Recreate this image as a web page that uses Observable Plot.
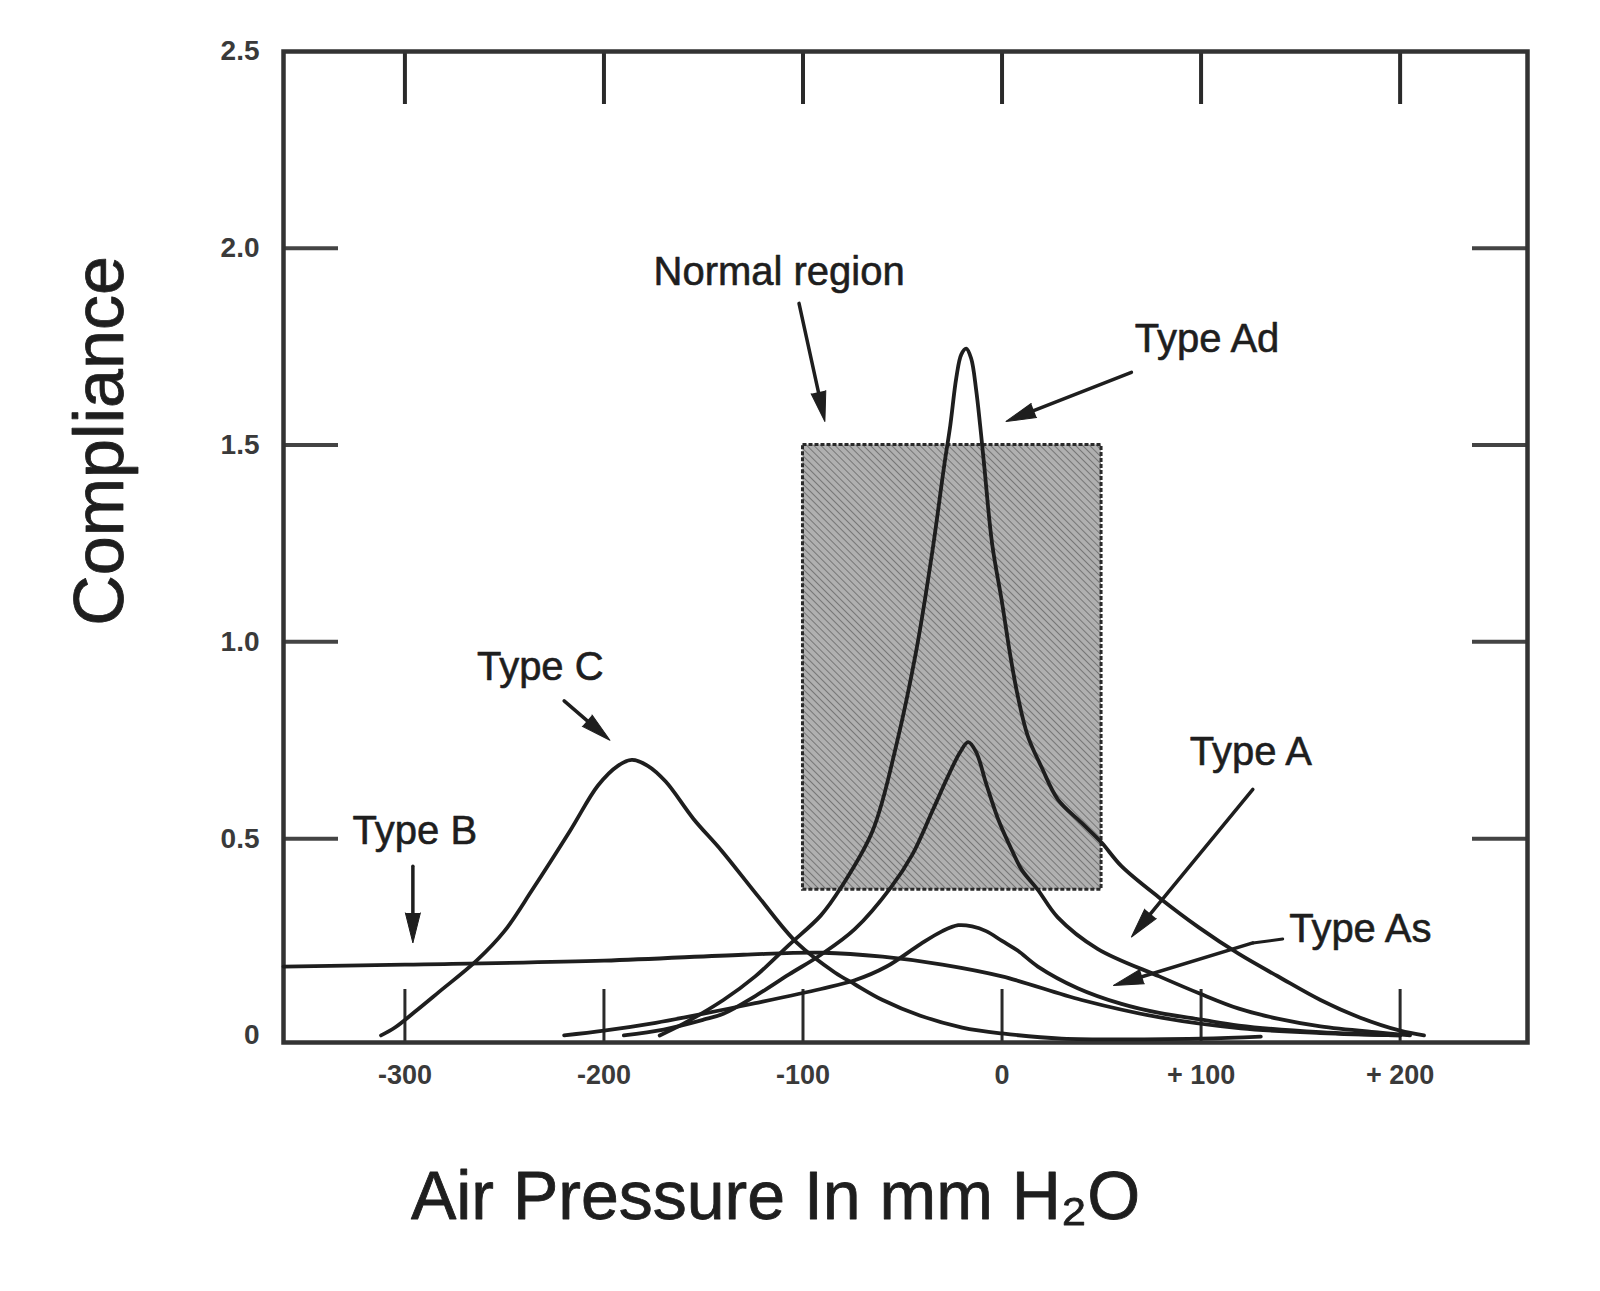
<!DOCTYPE html>
<html>
<head>
<meta charset="utf-8">
<script src="https://cdn.jsdelivr.net/npm/d3@7"></script>
<script src="https://cdn.jsdelivr.net/npm/@observablehq/plot@0.6"></script>
<style>
  body { margin: 0; background: #fff; }
  #chart svg { display: block; }
</style>
</head>
<body>
<div id="chart"></div>
<script>
// ---- axis ticks and labels ----
const xTicks = [-300, -200, -100, 0, 100, 200];
const xTickLabels = ["-300", "-200", "-100", "0", "+ 100", "+ 200"];
const yTicks = [0, 0.5, 1.0, 1.5, 2.0, 2.5];
const yTickLabels = ["0", "0.5", "1.0", "1.5", "2.0", "2.5"];
const yInnerTicks = [0.5, 1.0, 1.5, 2.0];
const xDomain = [-361, 264];
const yDomain = [-0.018, 2.5];

// ---- normal region box ----
const normalX = [-100, 50];
const normalY = [0.37, 1.5];

// ---- curves (air pressure mm H2O, compliance) ----
const typeC_x = [-312, -305, -295, -283, -264, -250, -236, -217, -203, -193, -186, -178, -169, -155, -141, -122, -103, -84, -74, -60, -41, -20, 0, 30, 100, 130];
const typeC_y = [0, 0.02, 0.06, 0.11, 0.19, 0.265, 0.37, 0.52, 0.635, 0.685, 0.70, 0.685, 0.645, 0.55, 0.47, 0.35, 0.235, 0.16, 0.13, 0.09, 0.05, 0.02, 0.005, -0.008, -0.008, -0.003];

const typeB_x = [-361, -300, -200, -130, -90, -60, -30, 0, 40, 80, 120, 160, 200];
const typeB_y = [0.175, 0.18, 0.19, 0.205, 0.21, 0.2, 0.18, 0.15, 0.09, 0.045, 0.018, 0.006, 0];

const typeAs_x = [-220, -200, -174, -160, -124, -91, -74, -58, -41, -30, -22, -15, -8, 0, 8, 18, 38, 60, 79, 100, 119, 160, 200];
const typeAs_y = [0, 0.012, 0.032, 0.045, 0.082, 0.118, 0.14, 0.175, 0.232, 0.265, 0.28, 0.277, 0.265, 0.24, 0.215, 0.175, 0.12, 0.08, 0.057, 0.04, 0.025, 0.008, 0];

const typeA_x = [-190, -170, -150, -140, -124, -107, -91, -74, -56, -45, -35, -27, -21, -17, -13, -8, -2, 5, 10, 18, 28, 48, 79, 99, 119, 139, 160, 190, 205];
const typeA_y = [0, 0.015, 0.04, 0.055, 0.1, 0.155, 0.205, 0.27, 0.375, 0.46, 0.57, 0.66, 0.72, 0.745, 0.72, 0.64, 0.55, 0.47, 0.42, 0.37, 0.3, 0.22, 0.15, 0.107, 0.068, 0.042, 0.023, 0.007, 0];

const typeAd_x = [-172, -160, -140, -124, -107, -91, -81, -65, -53, -43, -35, -29, -26, -23, -20.5, -18, -15.5, -13, -11, -9, -5, 0, 4, 8, 13, 20, 28, 40, 50, 60, 79, 99, 119, 139, 160, 180, 200, 212];
const typeAd_y = [0, 0.03, 0.09, 0.15, 0.23, 0.305, 0.375, 0.52, 0.74, 0.98, 1.23, 1.45, 1.55, 1.67, 1.73, 1.745, 1.72, 1.64, 1.55, 1.45, 1.25, 1.1, 0.97, 0.86, 0.76, 0.68, 0.6, 0.54, 0.49, 0.43, 0.35, 0.274, 0.207, 0.149, 0.09, 0.045, 0.012, 0];

// ---- annotations ----
const noteText = ["Normal region", "Type Ad", "Type C", "Type B", "Type A", "Type As"];
const noteX = [-112, 103, -232, -295, 125, 180];
const noteY = [1.94, 1.77, 0.935, 0.52, 0.72, 0.27];

const arrowX1 = [-102, 65, -220, -296, 126, 126];
const arrowY1 = [1.86, 1.685, 0.85, 0.43, 0.625, 0.235];
const arrowX2 = [-89, 2, -197, -296, 65, 56];
const arrowY2 = [1.56, 1.56, 0.75, 0.235, 0.25, 0.127];

const stubX = [141, 126];
const stubY = [0.245, 0.235];

// ---- build tables ----
const seriesDefs = [
  ["C", typeC_x, typeC_y],
  ["B", typeB_x, typeB_y],
  ["As", typeAs_x, typeAs_y],
  ["A", typeA_x, typeA_y],
  ["Ad", typeAd_x, typeAd_y]
];
const curves = seriesDefs.flatMap(([type, xs, ys]) => xs.map((x, i) => ({type, x, y: ys[i]})));
const notes = noteText.map((t, i) => ({t, x: noteX[i], y: noteY[i]}));
const arrows = arrowX1.map((x1, i) => ({x1, y1: arrowY1[i], x2: arrowX2[i], y2: arrowY2[i]}));
const stub = stubX.map((x, i) => ({x, y: stubY[i]}));
const box = [{x1: normalX[0], x2: normalX[1], y1: normalY[0], y2: normalY[1]}];

const W = 1600, H = 1291;
const mT = 51, mR = 73, mB = 249, mL = 283;
const innerW = W - mL - mR, innerH = H - mT - mB;
const tickLen = 53;
const ink = "#1e1e1e";
const font = "'Liberation Sans', Arial, Helvetica, sans-serif";

// arrowhead direction (screen angle, clockwise from up)
const kx = innerW / (xDomain[1] - xDomain[0]);
const ky = innerH / (yDomain[1] - yDomain[0]);
const heads = arrows.map(a => ({
  x: a.x2, y: a.y2,
  r: Math.atan2((a.x2 - a.x1) * kx, (a.y2 - a.y1) * ky) * 180 / Math.PI
}));

function baseMarks() {
  return [
    Plot.rect(box, {x1: "x1", x2: "x2", y1: "y1", y2: "y2", fill: "url(#hatch)", stroke: "#2a2a2a", strokeWidth: 3, strokeDasharray: "4,2"}),
    Plot.ruleX(xTicks, {x: d => d, insetBottom: innerH - tickLen, stroke: "#2a2a2a", strokeWidth: 4}),
    Plot.ruleX(xTicks, {x: d => d, insetTop: innerH - tickLen, stroke: "#2a2a2a", strokeWidth: 3}),
    Plot.ruleY(yInnerTicks, {y: d => d, insetRight: innerW - tickLen - 2, stroke: "#444", strokeWidth: 4}),
    Plot.ruleY(yInnerTicks, {y: d => d, insetLeft: innerW - tickLen - 2, stroke: "#444", strokeWidth: 4}),
    Plot.frame({stroke: "#333", strokeWidth: 4.5}),
    Plot.axisX(xTicks, {tickSize: 0, tickPadding: 22, tickFormat: d => xTickLabels[xTicks.indexOf(d)], fontSize: 27, fontWeight: "bold", fill: "#3a3a3a", label: null}),
    Plot.axisY(yTicks, {tickSize: 0, tickPadding: 24, tickFormat: d => yTickLabels[yTicks.indexOf(d)], fontSize: 28, fontWeight: "bold", fill: "#3a3a3a", label: null}),
    Plot.line(curves, {x: "x", y: "y", z: "type", curve: "catmull-rom", stroke: ink, strokeWidth: 3.8}),
    Plot.line(stub, {x: "x", y: "y", stroke: ink, strokeWidth: 3}),
    Plot.text(notes, {x: "x", y: "y", text: "t", fontSize: 40, fill: ink, stroke: ink, strokeWidth: 0.6}),
    Plot.text(["Air Pressure In mm H\u2082O"], {frameAnchor: "bottom", textAnchor: "middle", dx: -130, dy: 176, lineAnchor: "bottom", fontSize: 68, fill: ink, stroke: ink, strokeWidth: 0.8}),
    Plot.text(["Compliance"], {frameAnchor: "left", textAnchor: "middle", rotate: -90, dx: -183, dy: -106, fontSize: 70, fill: ink, stroke: ink, strokeWidth: 0.8})
  ];
}

const opts = (extra) => ({
  width: W, height: H,
  marginTop: mT, marginRight: mR, marginBottom: mB, marginLeft: mL,
  style: {fontFamily: font, background: "#fff", color: ink},
  x: {domain: xDomain},
  y: {domain: yDomain},
  marks: [...baseMarks(), ...extra]
});

let svg;
try {
  svg = Plot.plot(opts([
    Plot.arrow(arrows, {x1: "x1", y1: "y1", x2: "x2", y2: "y2", stroke: ink, strokeWidth: 3.5, headLength: 0, insetEnd: 16}),
    Plot.vector(heads, {x: "x", y: "y", rotate: "r", length: 30, r: 7.5, shape: "spike", anchor: "end", fill: ink, stroke: ink, strokeWidth: 1})
  ]));
} catch (e) {
  svg = Plot.plot(opts([
    Plot.arrow(arrows, {x1: "x1", y1: "y1", x2: "x2", y2: "y2", stroke: ink, strokeWidth: 3.5, headLength: 22, headAngle: 30})
  ]));
}

// hatch pattern for the normal-region box
const defs = d3.select(svg).insert("defs", ":first-child");
const pat = defs.append("pattern")
  .attr("id", "hatch")
  .attr("patternUnits", "userSpaceOnUse")
  .attr("width", 5).attr("height", 5)
  .attr("patternTransform", "rotate(-45)");
pat.append("rect").attr("width", 5).attr("height", 5).attr("fill", "#b0b0b0");
pat.append("line").attr("x1", 0).attr("y1", 0).attr("x2", 0).attr("y2", 5)
  .attr("stroke", "#767676").attr("stroke-width", 2);

document.getElementById("chart").appendChild(svg);
</script>
</body>
</html>
